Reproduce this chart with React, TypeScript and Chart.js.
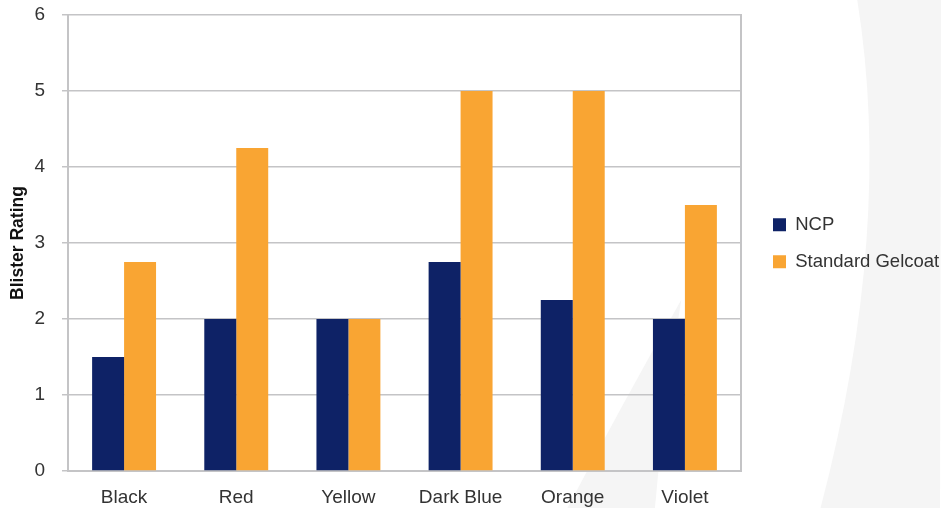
import React, { useEffect, useRef } from "react";
import { Chart, registerables } from "chart.js";

Chart.register(...registerables);

const categories = ["Black", "Red", "Yellow", "Dark Blue", "Orange", "Violet"];
const ncpValues = [1.5, 2, 2, 2.75, 2.25, 2];
const gelcoatValues = [2.75, 4.25, 2, 5, 5, 3.5];
const seriesNames = ["NCP", "Standard Gelcoat"];
const seriesColors = ["#0e2266", "#f9a533"];
const yTitle = "Blister Rating";

const FONT = "'Liberation Sans', Arial, Helvetica, sans-serif";
const GRID = "#c4c4c6";

const backgroundPlugin = {
  id: "decorBackground",
  beforeDraw(chart: any) {
    const { ctx, width: w, height: h } = chart;
    ctx.save();
    ctx.fillStyle = "#ffffff";
    ctx.fillRect(0, 0, w, h);
    ctx.fillStyle = "#f5f5f5";
    // large crescent on the right
    ctx.beginPath();
    ctx.moveTo(w * 0.911, 0);
    ctx.quadraticCurveTo(w * 0.95, h * 0.45, w * 0.872, h);
    ctx.lineTo(w * 0.999, h);
    ctx.lineTo(w, 0);
    ctx.closePath();
    ctx.fill();
    // faint sail inside plot area
    ctx.beginPath();
    ctx.moveTo(w * 0.724, h * 0.59);
    ctx.quadraticCurveTo(w * 0.66, h * 0.8, w * 0.603, h);
    ctx.lineTo(w * 0.696, h);
    ctx.quadraticCurveTo(w * 0.705, h * 0.8, w * 0.724, h * 0.59);
    ctx.closePath();
    ctx.fill();
    ctx.restore();
  },
};

export default function App() {
  const canvasRef = useRef<HTMLCanvasElement | null>(null);

  useEffect(() => {
    if (!canvasRef.current) return;
    const chart = new Chart(canvasRef.current, {
      type: "bar",
      data: {
        labels: categories,
        datasets: [
          {
            label: seriesNames[0],
            data: ncpValues,
            backgroundColor: seriesColors[0],
            borderWidth: 0,
            categoryPercentage: 0.57,
            barPercentage: 1,
          },
          {
            label: seriesNames[1],
            data: gelcoatValues,
            backgroundColor: seriesColors[1],
            borderWidth: 0,
            categoryPercentage: 0.57,
            barPercentage: 1,
          },
        ],
      },
      options: {
        animation: false,
        responsive: true,
        maintainAspectRatio: false,
        devicePixelRatio: 1,
        layout: { padding: { top: 15, left: 0, right: 0, bottom: 0 } },
        plugins: {
          tooltip: { enabled: false },
          legend: {
            position: "right",
            align: "center",
            fullSize: false,
            maxWidth: 170,
            title: {
              display: true,
              text: "",
              padding: 0,
              font: { size: 17, lineHeight: "17px", family: FONT },
            },
            labels: {
              boxWidth: 13,
              boxHeight: 13,
              padding: 2,
              color: "#333333",
              font: { family: FONT, size: 18.5, lineHeight: "35px" },
              generateLabels: (chart: any) =>
                Chart.defaults.plugins.legend.labels
                  .generateLabels(chart)
                  .map((l: any) => ({ ...l, text: [l.text] })),
            },
          },
        },
        scales: {
          x: {
            grid: { display: false, drawTicks: false, tickLength: 0 },
            border: { display: true, color: GRID, width: 2 },
            ticks: {
              color: "#333333",
              padding: 15,
              font: { family: FONT, size: 19 },
            },
            afterFit: (scale: any) => {
              scale.height = 37;
            },
          },
          y: {
            min: 0,
            max: 6,
            ticks: {
              stepSize: 1,
              color: "#333333",
              padding: 17,
              font: { family: FONT, size: 19 },
            },
            grid: {
              color: GRID,
              lineWidth: 1.5,
              tickLength: 6,
              drawTicks: true,
            },
            border: { display: true, color: GRID, width: 2 },
            title: {
              display: true,
              text: yTitle,
              color: "#111111",
              padding: { top: 8, bottom: 6 },
              font: { family: FONT, size: 17.5, weight: "bold" },
            },
            afterFit: (scale: any) => {
              scale.width = 68;
              scale.paddingTop = 0;
              scale.paddingBottom = 0;
            },
          },
          y2: {
            position: "right",
            min: 0,
            max: 6,
            ticks: { display: false },
            grid: { drawOnChartArea: false, drawTicks: false },
            border: { display: true, color: GRID, width: 2 },
            afterFit: (scale: any) => {
              scale.width = 30;
              scale.paddingTop = 0;
              scale.paddingBottom = 0;
            },
          },
        },
      },
      plugins: [backgroundPlugin],
    });
    return () => chart.destroy();
  }, []);

  return (
    <div
      style={{
        position: "fixed",
        left: 0,
        top: 0,
        width: 941,
        height: 508,
        background: "#ffffff",
      }}
    >
      <canvas ref={canvasRef} />
    </div>
  );
}
